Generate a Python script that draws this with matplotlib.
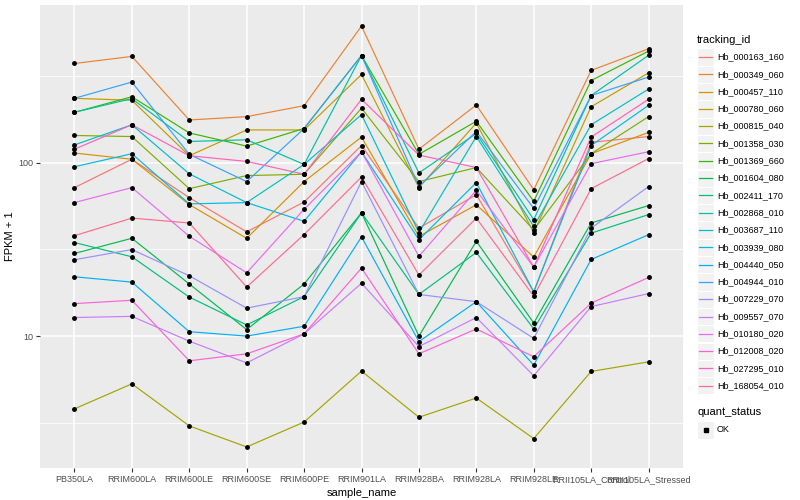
import matplotlib.pyplot as plt
import numpy as np
from matplotlib.patches import Rectangle
from matplotlib.lines import Line2D

plt.rcParams['font.family'] = ['Liberation Sans', 'DejaVu Sans']

samples = ['PB350LA', 'RRIM600LA', 'RRIM600LE', 'RRIM600SE', 'RRIM600PE',
           'RRIM901LA', 'RRIM928BA', 'RRIM928LA', 'RRIM928LE',
           'RRII105LA_Control', 'RRII105LA_Stressed']

tracking_ids = ['Hb_000163_160', 'Hb_000349_060', 'Hb_000457_110', 'Hb_000780_060',
                'Hb_000815_040', 'Hb_001358_030', 'Hb_001369_660', 'Hb_001604_080',
                'Hb_002411_170', 'Hb_002868_010', 'Hb_003687_110', 'Hb_003939_080',
                'Hb_004440_050', 'Hb_004944_010', 'Hb_007229_070', 'Hb_009557_070',
                'Hb_010180_020', 'Hb_012008_020', 'Hb_027295_010', 'Hb_168054_010']

# FPKM + 1, one list per gene, in sample order
hb_000163_160 = [72, 105, 63, 40, 59.5, 126, 42, 65.6, 18, 131.5, 142]
hb_000349_060 = [375, 412, 177, 185, 214, 617, 120, 216, 70, 342, 456]
hb_000457_110 = [114, 105, 57.5, 36.7, 78, 141, 37.6, 57.3, 28.6, 113, 150]
hb_000780_060 = [236, 230, 110, 155, 155, 324, 72, 170, 39.6, 211, 331]
hb_000815_040 = [3.8, 5.3, 3.03, 2.29, 3.19, 6.28, 3.4, 4.39, 2.56, 6.25, 7.1]
hb_001358_030 = [144, 142, 71, 84.5, 86, 207, 78, 94, 41, 113, 185]
hb_001369_660 = [196, 241, 149, 125, 158, 417, 112, 174, 60, 299, 442]
hb_001604_080 = [30, 36.7, 20, 10.9, 20, 51.5, 10, 35.3, 11.9, 45, 56.7]
hb_002411_170 = [34.7, 28.7, 16.8, 11.6, 16.9, 51.5, 17.4, 30.4, 11, 39.3, 50.3]
hb_002868_010 = [196, 235, 133, 136, 98, 417, 87.5, 148, 47, 245, 418]
hb_003687_110 = [127, 166, 86.5, 59, 98, 190, 39.6, 142, 43, 166, 267]
hb_003939_080 = [95, 113, 58, 59, 46, 116, 36, 77, 18, 126, 215]
hb_004440_050 = [22, 20.5, 10.6, 10, 11.4, 37.4, 9.3, 15.8, 6.8, 27.7, 38.5]
hb_004944_010 = [236, 293, 112, 78, 158, 417, 73, 152, 54.6, 245, 313]
hb_007229_070 = [27.6, 31.6, 22.3, 14.5, 16.9, 78, 17.4, 15.8, 9.7, 42, 73]
hb_009557_070 = [12.8, 13, 9.35, 7, 10.3, 20.2, 8.7, 12.8, 5.9, 14.8, 17.6]
hb_010180_020 = [59, 72, 37.7, 23.2, 54, 116, 28.9, 69.5, 25, 99, 116]
hb_012008_020 = [15.4, 16.1, 7.2, 7.9, 10.3, 24.7, 7.9, 11, 7.6, 15.5, 21.8]
hb_027295_010 = [120, 166, 110, 102, 86, 233, 111, 94, 25, 141, 233]
hb_168054_010 = [38, 48, 45, 19.2, 38.6, 83, 22.5, 48, 17, 71, 106]

values = [hb_000163_160, hb_000349_060, hb_000457_110, hb_000780_060, hb_000815_040,
          hb_001358_030, hb_001369_660, hb_001604_080, hb_002411_170, hb_002868_010,
          hb_003687_110, hb_003939_080, hb_004440_050, hb_004944_010, hb_007229_070,
          hb_009557_070, hb_010180_020, hb_012008_020, hb_027295_010, hb_168054_010]

# ggplot hue palette, 20 levels
colors = ['#F8766D', '#EA8331', '#D89000', '#C09B00', '#A3A500', '#7CAE00', '#39B600',
          '#00BB4E', '#00BF7D', '#00C1A3', '#00BFC4', '#00BAE0', '#00B0F6', '#35A2FF',
          '#9590FF', '#C77CFF', '#E76BF3', '#FA62DB', '#FF62BC', '#FF6C91']

W, H = 800, 500
fig = plt.figure(figsize=(8, 5), dpi=100)
ax = fig.add_axes([40/W, 1-468/H, (683-40)/W, (468-5)/H])
ax.set_facecolor('#EBEBEB')

x = np.arange(len(samples))
for vals, c in zip(values, colors):
    ax.plot(x, vals, color=c, lw=0.85, zorder=3)
for vals in values:
    ax.plot(x, vals, 'o', color='black', ms=2.5, zorder=4)

ax.set_yscale('log')
allv = np.log10(np.concatenate([np.array(v) for v in values]))
lo, hi = allv.min(), allv.max()
pad = 0.05*(hi-lo)
ax.set_ylim(10**(lo-pad), 10**(hi+pad))
ax.set_xlim(-0.6, len(samples)-0.4)

ax.set_yticks([10, 100])
ax.set_yticklabels(['10', '100'])
ax.set_yticks([10**0.5, 10**1.5, 10**2.5], minor=True)
ax.yaxis.set_minor_formatter(plt.NullFormatter())
ax.set_xticks(x)
ax.set_xticklabels(samples)

ax.grid(which='major', color='white', lw=1.1, zorder=0)
ax.grid(which='minor', axis='y', color='white', lw=0.55, zorder=0)
ax.set_axisbelow(True)
for s in ax.spines.values():
    s.set_visible(False)
ax.tick_params(which='major', length=3, width=0.8, color='#333333',
               labelsize=6.5, labelcolor='#4D4D4D', pad=2)
ax.tick_params(which='minor', length=0)

ax.set_xlabel('sample_name', fontsize=8, labelpad=3)
ax.set_ylabel('FPKM + 1', fontsize=8, labelpad=2)

# legend drawn in ggplot style
def fx(px):
    return px / W

def fy(py):
    return 1 - py / H

fig.text(fx(697), fy(40), 'tracking_id', fontsize=8, va='center', ha='left')
step = 17.3
for i, (name, c) in enumerate(zip(tracking_ids, colors)):
    cy = 57 + step*i
    fig.add_artist(Rectangle((fx(697), fy(cy+8.6)), 17/W, 17.2/H, transform=fig.transFigure,
                             facecolor='#F2F2F2', edgecolor='white', lw=0.8))
    fig.add_artist(Line2D([fx(699), fx(712)], [fy(cy), fy(cy)], transform=fig.transFigure,
                          color=c, lw=0.9))
    fig.text(fx(717), fy(cy), name, fontsize=6.5, va='center', ha='left')

fig.text(fx(697), fy(412), 'quant_status', fontsize=8, va='center', ha='left')
fig.add_artist(Rectangle((fx(697), fy(430+8.6)), 17/W, 17.2/H, transform=fig.transFigure,
                         facecolor='#F2F2F2', edgecolor='white', lw=0.8))
fig.add_artist(Line2D([fx(705.5)], [fy(430)], transform=fig.transFigure,
                      marker='s', color='black', ms=2.5, lw=0))
fig.text(fx(717), fy(430), 'OK', fontsize=6.5, va='center', ha='left')

fig.savefig('out.png', dpi=100)
